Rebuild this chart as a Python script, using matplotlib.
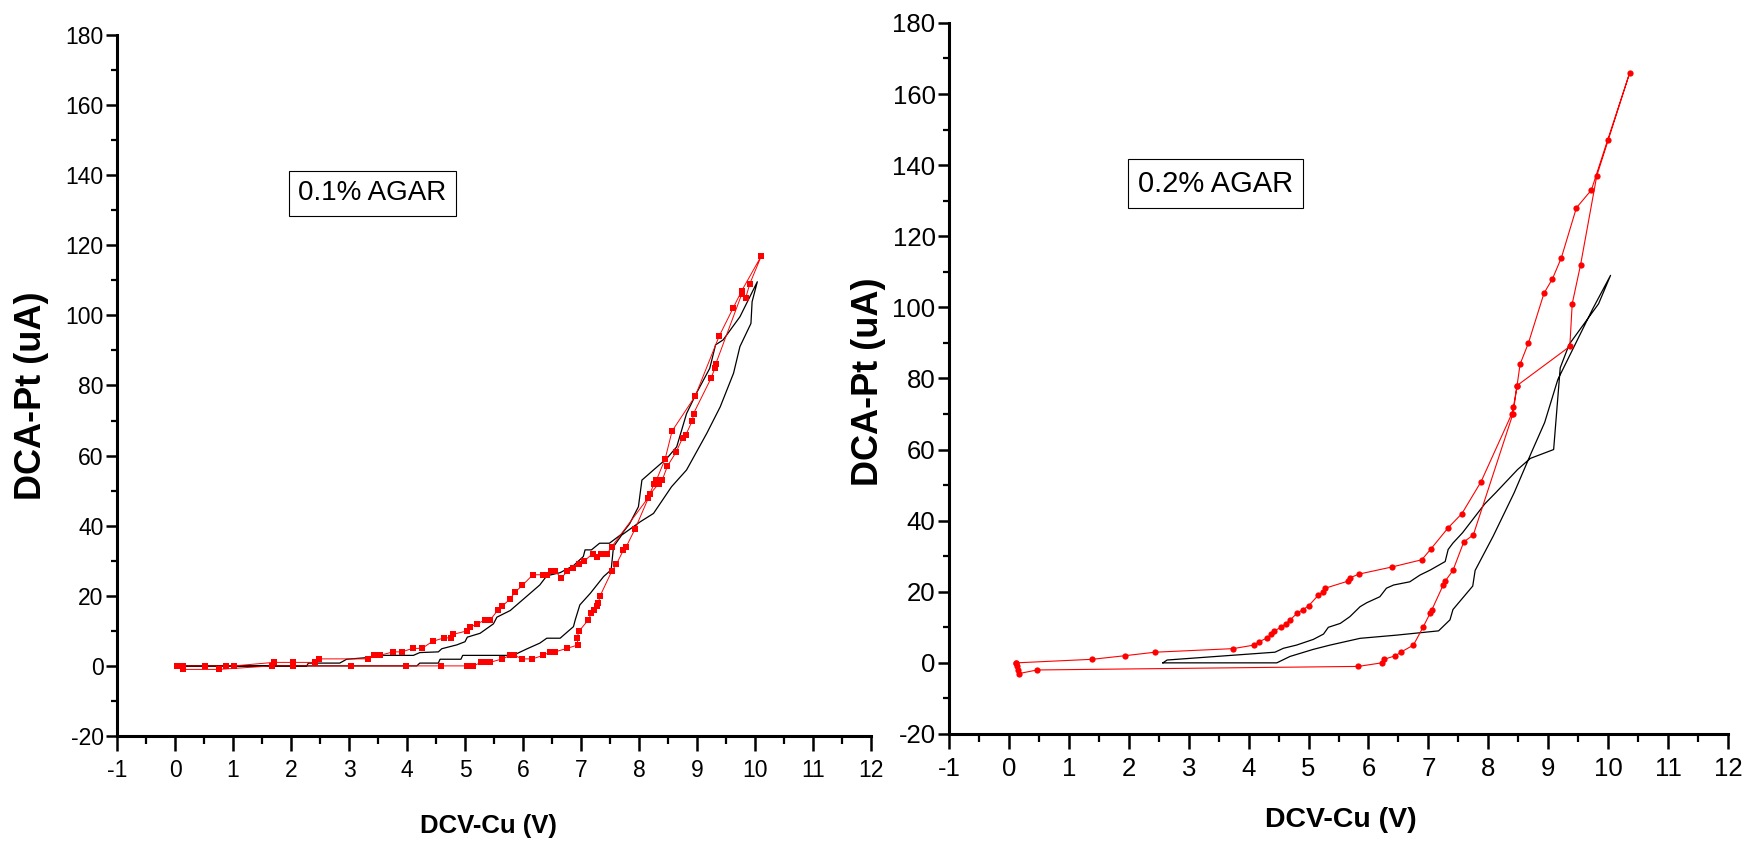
import matplotlib
matplotlib.use("Agg")
import matplotlib.pyplot as plt
from matplotlib.ticker import MultipleLocator

plt.rcParams['font.family'] = ['Liberation Sans', 'DejaVu Sans']
plt.rcParams['axes.unicode_minus'] = False

# 0.1% agar - black curve (loop)
czarny1_x = [0.09, 2.27, 2.30, 2.84, 2.96, 3.42, 3.53, 4.11, 4.22, 4.54, 4.60, 4.86, 5.00, 5.04, 5.26,
             5.49, 5.55, 5.78, 6.06, 6.29, 6.41, 6.64, 6.87, 7.04, 7.07, 7.18, 7.32, 7.49, 7.70, 7.84,
             7.99, 8.02, 8.05, 8.25, 8.48, 8.65, 8.82, 8.99, 9.22, 9.32, 9.45, 9.74, 10.04,
             9.95, 9.93, 9.74, 9.63, 9.40, 9.17, 8.82, 8.56, 8.25, 8.02, 7.70, 7.56, 7.52, 7.39,
             7.16, 6.98, 6.90, 6.87, 6.64, 6.41, 6.29, 6.06, 5.83, 4.96, 4.93, 4.57, 4.54, 4.22,
             4.17, 0.09]
czarny1_y = [0, 0, 0.8, 0.8, 1.9, 2.5, 3.0, 3.0, 3.8, 4.0, 4.9, 6.0, 6.9, 8.2, 9.3,
             12.0, 13.9, 15.8, 19.8, 23.1, 25.7, 26.6, 28.6, 31.2, 33.1, 33.1, 35.0, 35.0, 37.6, 40.6,
             45.4, 49.2, 53.0, 55.9, 59.2, 62.5, 72.0, 77.8, 84.9, 91.6, 93.0, 99.6, 109.6,
             103.9, 97.7, 91.1, 83.5, 73.9, 66.4, 55.9, 51.1, 43.5, 41.1, 37.3, 34.0, 27.4, 25.5,
             20.7, 17.4, 13.1, 11.2, 7.9, 7.9, 6.5, 4.8, 3.0, 3.0, 1.9, 1.9, 0.8, 0.8,
             0, 0]

# 0.1% agar - red points, going up and coming back
czerwony1_up_x = [0.04, 0.14, 0.52, 0.88, 1.02, 1.70, 2.03, 2.41, 2.48, 3.33, 3.43, 3.53, 3.76, 3.91,
                  4.10, 4.26, 4.44, 4.64, 4.76, 4.79, 5.04, 5.09, 5.20, 5.34, 5.43, 5.57, 5.64, 5.77,
                  5.86, 5.99, 6.17, 6.35, 6.41, 6.49, 6.56, 6.66, 6.76, 6.87, 6.97, 7.06, 7.20, 7.27,
                  7.35, 7.45, 7.53, 8.16, 8.26, 8.30, 8.45, 8.57, 8.97, 9.38, 9.62, 9.77, 10.11]
czerwony1_up_y = [0, 0, 0, 0, 0, 1, 1, 1, 2, 2, 3, 3, 4, 4,
                  5, 5, 7, 8, 8, 9, 10, 11, 12, 13, 13, 16, 17, 19,
                  21, 23, 26, 26, 26, 27, 27, 25, 27, 28, 29, 30, 32, 31,
                  32, 32, 34, 48, 52, 53, 59, 67, 77, 94, 102, 107, 117]
czerwony1_dn_x = [9.91, 9.84, 9.77, 9.32, 9.31, 9.24, 8.94, 8.92, 8.81, 8.75, 8.64, 8.49, 8.40, 8.34,
                  8.19, 7.93, 7.78, 7.73, 7.61, 7.53, 7.33, 7.30, 7.27, 7.23, 7.18, 7.12, 6.97, 6.93,
                  6.95, 6.76, 6.55, 6.47, 6.35, 6.16, 5.99, 5.85, 5.78, 5.64, 5.43, 5.34, 5.28, 5.14,
                  5.03, 4.58, 3.98, 3.03, 2.03, 1.67, 0.75, 0.13]
czerwony1_dn_y = [109, 105, 106, 86, 85, 82, 72, 70, 66, 65, 61, 57, 53, 52,
                  49, 39, 34, 33, 29, 27, 20, 18, 17, 16, 15, 13, 10, 8,
                  6, 5, 4, 4, 3, 2, 2, 3, 3, 2, 1, 1, 1, 0,
                  0, 0, 0, 0, 0, 0, -1, -1]

# 0.2% agar - black curve (loop)
czarny2_x = [2.57, 2.64, 4.44, 4.58, 4.80, 5.08, 5.25, 5.33, 5.53, 5.69, 5.86, 5.97, 6.19, 6.30,
             6.42, 6.69, 6.86, 7.03, 7.28, 7.33, 7.41, 7.57, 7.94, 8.12, 8.49, 8.70, 9.09, 9.20,
             9.35, 9.84, 10.04,
             9.74, 9.16, 8.94, 8.72, 8.43, 8.08, 7.78, 7.74, 7.41, 7.36, 7.17, 6.47, 5.86, 5.36,
             5.08, 4.69, 4.47, 2.57]
czarny2_y = [0, 0.8, 3.0, 4.1, 5.0, 6.6, 8.1, 10.0, 11.1, 13.0, 15.8, 16.9, 18.6, 21.0,
             21.9, 22.8, 24.7, 26.1, 28.5, 31.9, 33.7, 36.6, 44.7, 47.8, 54.4, 57.5, 60.0, 83.0,
             89.6, 101.0, 109.0,
             99.5, 79.7, 67.6, 59.2, 47.8, 35.6, 26.0, 21.6, 15.0, 12.1, 9.0, 7.8, 6.9, 5.0,
             3.8, 1.8, 0, 0]

# 0.2% agar - red points
czerwony2_up_x = [0.12, 1.39, 1.93, 2.44, 3.74, 4.09, 4.18, 4.31, 4.37, 4.43, 4.54, 4.62, 4.69, 4.81,
                  4.91, 5.00, 5.16, 5.24, 5.28, 5.66, 5.70, 5.85, 6.40, 6.89, 7.04, 7.33, 7.56, 7.88,
                  8.39, 8.42, 8.48, 8.53, 8.67, 8.93, 9.07, 9.22, 9.47, 9.72, 9.99, 10.36]
czerwony2_up_y = [0, 1, 2, 3, 4, 5, 6, 7, 8, 9, 10, 11, 12, 14,
                  15, 16, 19, 20, 21, 23, 24, 25, 27, 29, 32, 38, 42, 51,
                  70, 72, 78, 84, 90, 104, 108, 114, 128, 133, 147, 166]
czerwony2_dn_x = [9.81, 9.54, 9.40, 9.36, 8.48, 8.41, 7.75, 7.59, 7.41, 7.28, 7.25, 7.06, 7.03, 6.91,
                  6.75, 6.54, 6.45, 6.26, 6.22, 5.83, 0.47, 0.17, 0.15, 0.13, 0.12]
czerwony2_dn_y = [137, 112, 101, 89, 78, 70, 36, 34, 26, 23, 22, 15, 14, 10,
                  5, 3, 2, 1, 0, -1, -2, -3, -2, -1, 0]

xticks = list(range(-1, 13))
yticks = list(range(-20, 181, 20))


def ustaw_os(ax, rozmiar):
    ax.set_xlim(-1, 12)
    ax.set_ylim(-20, 180)
    ax.spines['top'].set_visible(False)
    ax.spines['right'].set_visible(False)
    ax.spines['left'].set_linewidth(2.2)
    ax.spines['bottom'].set_linewidth(2.2)
    ax.set_xticks(xticks)
    ax.set_yticks(yticks)
    ax.set_xticklabels([str(t) for t in xticks])
    ax.set_yticklabels([str(t) for t in yticks])
    ax.xaxis.set_minor_locator(MultipleLocator(0.5))
    ax.yaxis.set_minor_locator(MultipleLocator(10))
    ax.tick_params(axis='x', which='major', direction='out', length=10.5, width=1.8,
                   labelsize=rozmiar, pad=6)
    ax.tick_params(axis='x', which='minor', direction='out', length=6, width=1.6)
    ax.tick_params(axis='y', which='major', direction='out', length=7.7, width=1.8,
                   labelsize=rozmiar, pad=2)
    ax.tick_params(axis='y', which='minor', direction='out', length=4, width=1.6)


fig = plt.figure(figsize=(17.49, 8.49), dpi=100)

# lewy wykres
ax1 = fig.add_axes([0.0669, 0.1331, 0.4311, 0.8257])
ustaw_os(ax1, 16.5)
ax1.plot(czarny1_x, czarny1_y, color='black', lw=0.9)
ax1.plot(czerwony1_up_x + czerwony1_dn_x, czerwony1_up_y + czerwony1_dn_y, color='red', lw=0.7,
         marker='s', markersize=3.8, markeredgewidth=0)
ax1.set_xlabel("DCV-Cu (V)", fontsize=18.5, fontweight='bold', va='center')
ax1.xaxis.set_label_coords(0.493, -0.128)
ax1.set_ylabel("DCA-Pt (uA)", fontsize=26, fontweight='bold', va='center')
ax1.yaxis.set_label_coords(-0.114, 0.485)
ax1.text(0.339, 0.774, "0.1% AGAR", transform=ax1.transAxes, fontsize=20, ha='center', va='center',
         bbox=dict(boxstyle='square,pad=0.35', facecolor='white', edgecolor='black', lw=0.8))

# prawy wykres
ax2 = fig.add_axes([0.5426, 0.1355, 0.4454, 0.8375])
ustaw_os(ax2, 18.5)
ax2.plot(czarny2_x, czarny2_y, color='black', lw=0.9)
ax2.plot(czerwony2_up_x + czerwony2_dn_x, czerwony2_up_y + czerwony2_dn_y, color='red', lw=0.8,
         marker='o', markersize=4.5, markeredgewidth=0)
ax2.set_xlabel("DCV-Cu (V)", fontsize=20.5, fontweight='bold', va='center')
ax2.xaxis.set_label_coords(0.503, -0.121)
ax2.set_ylabel("DCA-Pt (uA)", fontsize=26, fontweight='bold', va='center')
ax2.yaxis.set_label_coords(-0.103, 0.495)
ax2.text(0.342, 0.774, "0.2% AGAR", transform=ax2.transAxes, fontsize=21, ha='center', va='center',
         bbox=dict(boxstyle='square,pad=0.35', facecolor='white', edgecolor='black', lw=0.8))

fig.savefig("out.png", dpi=100)
